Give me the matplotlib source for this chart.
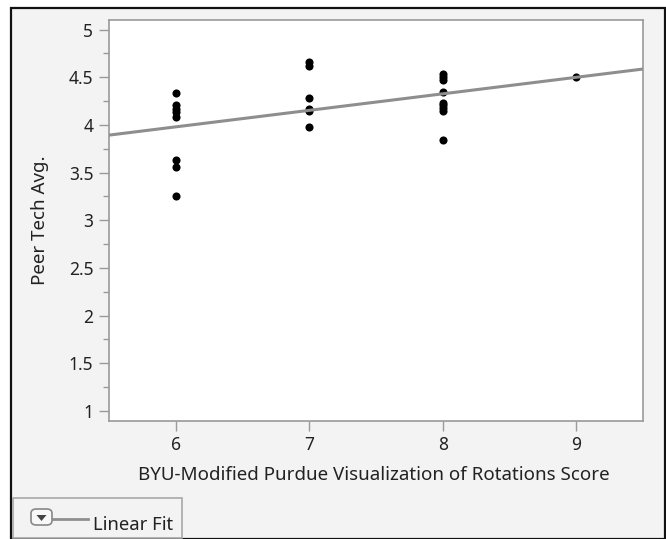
import numpy as np
import matplotlib
matplotlib.use("Agg")
import matplotlib.pyplot as plt
from matplotlib.patches import Rectangle, FancyBboxPatch, Polygon
from matplotlib.lines import Line2D

plt.rcParams['font.family'] = ['Noto Sans', 'DejaVu Sans']

# Data
score_x = [6, 6, 6, 6, 6, 6, 6, 6,
           7, 7, 7, 7, 7, 7,
           8, 8, 8, 8, 8, 8, 8, 8, 8,
           9]
peer_tech_avg = [4.33, 4.21, 4.17, 4.13, 4.08, 3.63, 3.56, 3.25,
                 4.66, 4.62, 4.28, 4.17, 4.15, 3.98,
                 4.53, 4.50, 4.47, 4.35, 4.23, 4.21, 4.18, 4.15, 3.84,
                 4.50]
x_ticks = [6, 7, 8, 9]
y_ticks = [1, 1.5, 2, 2.5, 3, 3.5, 4, 4.5, 5]
y_tick_labels = ["1", "1.5", "2", "2.5", "3", "3.5", "4", "4.5", "5"]
x_label = "BYU-Modified Purdue Visualization of Rotations Score"
y_label = "Peer Tech Avg."
legend_label = "Linear Fit"

W, H = 666, 539
fig = plt.figure(figsize=(W / 100, H / 100), dpi=100)
fig.patch.set_facecolor("white")

# panel background and outer frame
fig.patches.append(Rectangle((11 / W, 0), (W - 12) / W, (H - 8) / H, transform=fig.transFigure,
                             facecolor="#f3f3f3", edgecolor="#111111", linewidth=1.6, zorder=-10))

ax = fig.add_axes([108.7 / W, 1 - 420.5 / H, (643.3 - 108.7) / W, (420.5 - 20) / H])
ax.set_zorder(1)
ax.set_facecolor("white")
ax.set_xlim(5.5, 9.5)
ax.set_ylim(0.9, 5.1)

for s in ax.spines.values():
    s.set_color("#9a9a9a")
    s.set_linewidth(1.2)

ax.set_xticks(x_ticks)
ax.set_xticklabels([str(t) for t in x_ticks])
ax.set_yticks(y_ticks)
ax.set_yticklabels(y_tick_labels)
ax.set_yticks(np.arange(1.25, 5.0, 0.5), minor=True)
ax.tick_params(axis="both", which="major", length=7.5, width=1.0, color="#9a9a9a",
               labelsize=12.5, labelcolor="#222222", pad=3.5)
ax.tick_params(axis="y", which="minor", length=4, width=1.0, color="#9a9a9a")

ax.scatter(score_x, peer_tech_avg, s=34, color="black", zorder=3, linewidths=0)

slope, intercept = np.polyfit(score_x, peer_tech_avg, 1)
xx = np.array([5.5, 9.5])
ax.plot(xx, intercept + slope * xx, color="#8e8e8e", linewidth=2.2, zorder=4,
        solid_capstyle="butt")

fig.text(138 / W, 1 - 480.5 / H, x_label, ha="left", va="baseline", fontsize=13.5, color="#222222")
fig.text(40 / W, 1 - 220 / H, y_label, ha="center", va="center", rotation=90,
         fontsize=13.5, color="#222222")

# legend box
fig.patches.append(Rectangle((13 / W, 1 - 538 / H), 169 / W, 40 / H, transform=fig.transFigure,
                             facecolor="#f3f3f3", edgecolor="#a8a8a8", linewidth=1.2, zorder=2))
fig.patches.append(FancyBboxPatch((31 / W, 1 - 525 / H), 21 / W, 16 / H,
                                  boxstyle="round,pad=0,rounding_size=0.008",
                                  transform=fig.transFigure, facecolor="#f8f8f8",
                                  edgecolor="#888888", linewidth=1.2, zorder=3))
fig.patches.append(Polygon([(36.5 / W, 1 - 515 / H), (46.5 / W, 1 - 515 / H), (41.5 / W, 1 - 521 / H)],
                           closed=True, transform=fig.transFigure, facecolor="#444444",
                           edgecolor="none", zorder=4))
fig.lines.append(Line2D([52 / W, 88 / W], [1 - 519 / H, 1 - 519 / H], transform=fig.transFigure,
                        color="#8e8e8e", linewidth=2.0, zorder=3))
fig.text(93 / W, 1 - 530 / H, legend_label, ha="left", va="baseline", fontsize=13.3, color="#222222")

fig.savefig("out.png", dpi=100)
